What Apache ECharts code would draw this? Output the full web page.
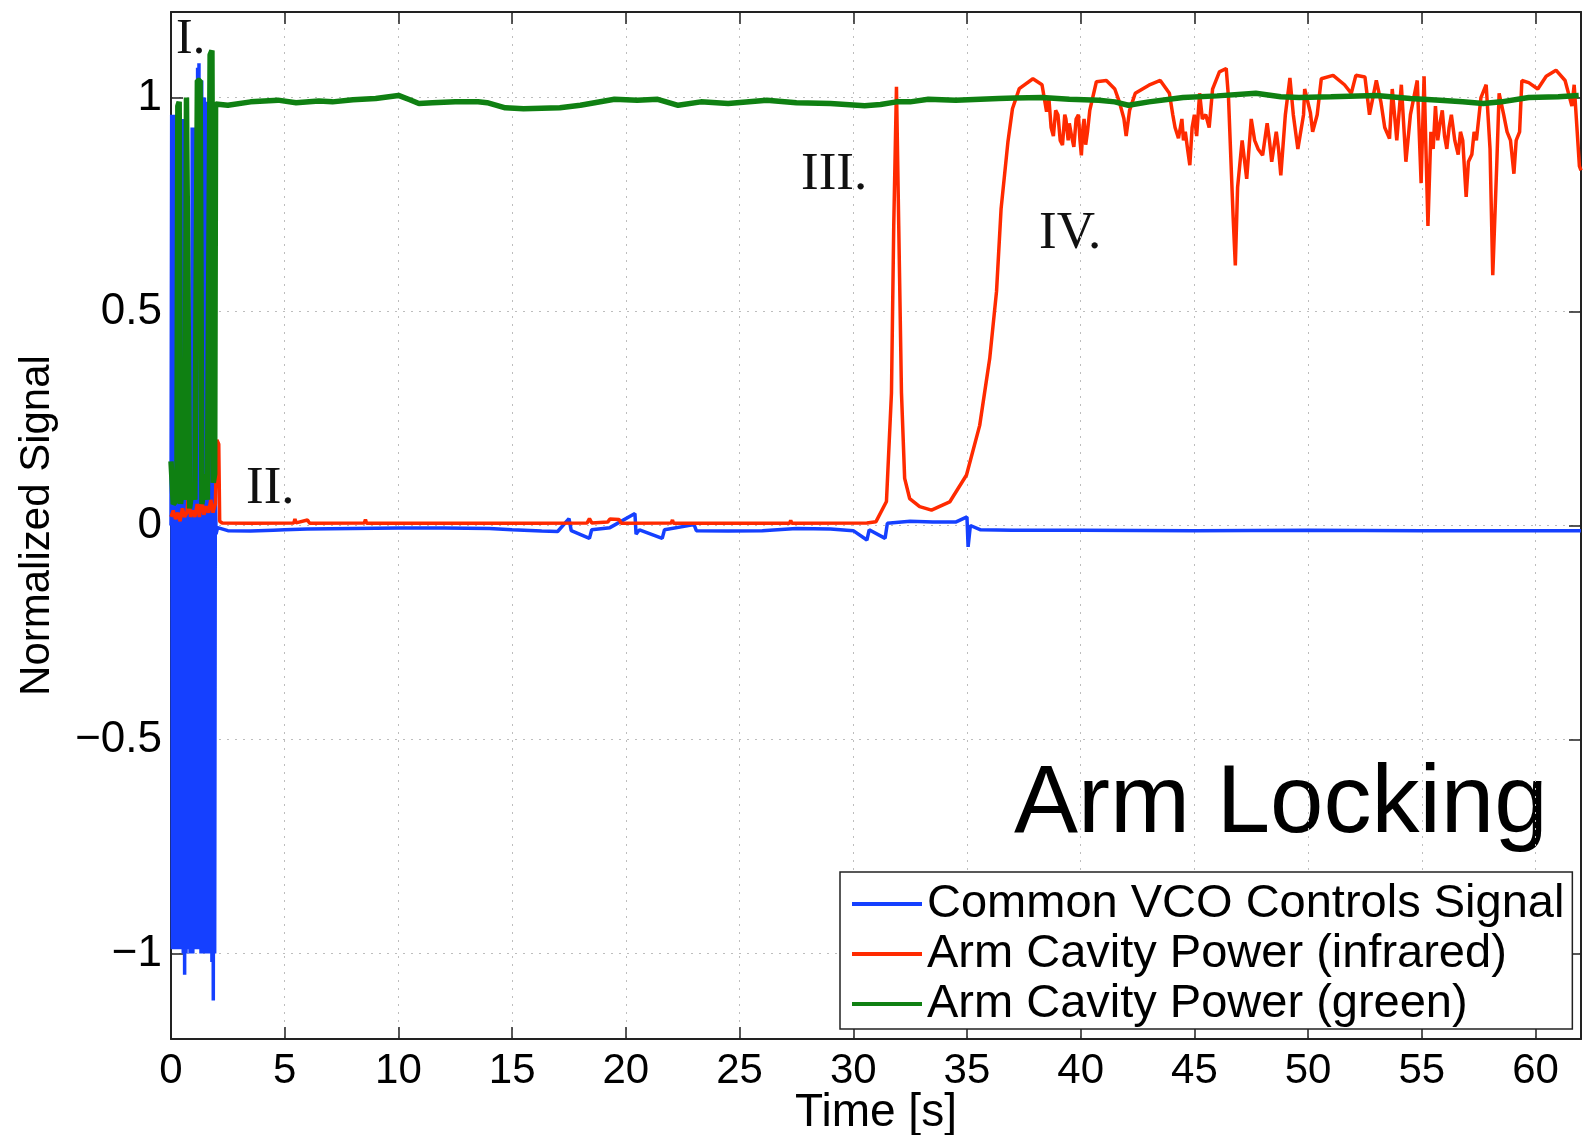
<!DOCTYPE html>
<html><head><meta charset="utf-8">
<script src="https://cdn.jsdelivr.net/npm/echarts@6/dist/echarts.min.js"></script>
<style>html,body{margin:0;padding:0;background:#fff;}#chart{width:1583px;height:1135px;}</style>
</head><body><div id="chart"></div>
<script>
// ---- data ----
const xTicks = [0, 5, 10, 15, 20, 25, 30, 35, 40, 45, 50, 55, 60];
const yTicks = [-1, -0.5, 0, 0.5, 1];
const seriesNames = ['Common VCO Controls Signal', 'Arm Cavity Power (infrared)', 'Arm Cavity Power (green)'];
const annotationLabels = ['I.', 'II.', 'III.', 'IV.'];
const titleText = 'Arm Locking';

// Common VCO controls signal [time s, value]
const vcoSignal = [
[0.00,0.00],[0.03,0.96],[0.06,-0.99],[0.09,0.95],[0.12,-0.99],[0.15,0.96],[0.18,-0.99],[0.21,0.94],[0.24,-0.98],
[0.27,0.35],[0.30,-0.99],[0.33,0.30],[0.36,-0.99],[0.39,0.45],[0.42,-0.98],[0.45,0.95],[0.48,-0.99],[0.51,0.95],
[0.54,-1.00],[0.57,0.94],[0.60,-1.05],[0.63,0.93],[0.66,-1.00],[0.69,0.40],[0.72,-0.99],[0.75,0.35],[0.78,-0.99],
[0.81,0.30],[0.84,-1.00],[0.87,0.40],[0.90,-1.00],[0.93,0.93],[0.96,-1.00],[0.99,0.92],[1.02,-0.99],[1.05,0.93],
[1.08,-0.99],[1.11,0.60],[1.14,-0.98],[1.17,1.07],[1.20,-0.99],[1.23,1.08],[1.26,-0.99],[1.29,1.04],[1.32,-1.00],
[1.35,1.04],[1.38,-1.00],[1.41,1.00],[1.44,-0.99],[1.47,1.00],[1.50,-1.00],[1.53,0.99],[1.56,-1.00],[1.59,0.99],
[1.62,-1.00],[1.65,0.98],[1.68,-1.00],[1.71,0.60],[1.74,-1.00],[1.77,0.55],[1.80,-1.02],[1.83,0.45],[1.86,-1.11],
[1.89,0.40],[1.92,-1.00],[1.95,0.10],[1.98,-0.02],
[2.05,-0.005],[2.5,-0.012],[3.5,-0.013],[4.5,-0.011],[5.0,-0.010],[6.0,-0.008],[8.0,-0.007],[10.0,-0.006],
[12.0,-0.006],[14.0,-0.007],[15.0,-0.010],[16.3,-0.013],[17.0,-0.014],[17.5,0.016],[17.6,-0.012],[18.4,-0.030],
[18.5,-0.010],[19.3,-0.005],[20.4,0.028],[20.45,-0.020],[20.6,-0.010],[21.6,-0.030],[21.7,-0.010],[23.0,0.002],
[23.1,-0.012],[24.5,-0.013],[26.0,-0.012],[27.5,-0.007],[29.0,-0.008],[30.0,-0.012],[30.6,-0.034],[30.7,-0.010],
[31.4,-0.030],[31.5,0.005],[32.5,0.010],[33.5,0.008],[34.5,0.008],[35.0,0.020],[35.05,-0.050],[35.15,0.000],
[35.6,-0.010],[37.0,-0.011],[40.0,-0.011],[45.0,-0.012],[50.0,-0.011],[55.0,-0.012],[60.0,-0.012],[62.0,-0.012]
];

// Arm cavity power, infrared [time s, value]
const irPower = [
[0.00,0.02],[0.10,0.035],[0.20,0.015],[0.30,0.03],[0.40,0.01],[0.50,0.04],[0.60,0.02],[0.70,0.03],[0.78,0.08],
[0.86,0.02],[0.95,0.035],[1.05,0.02],[1.15,0.05],[1.25,0.02],[1.35,0.06],[1.45,0.025],[1.55,0.045],[1.65,0.03],
[1.75,0.06],[1.85,0.03],[1.95,0.05],[2.02,0.20],[2.10,0.19],[2.14,0.01],[2.25,0.006],
[3.5,0.005],[5.4,0.006],[5.45,0.015],[5.5,0.006],[6.0,0.013],[6.1,0.005],[8.5,0.006],[8.55,0.014],[8.6,0.005],
[12.0,0.005],[16.0,0.005],[18.3,0.006],[18.4,0.016],[18.5,0.006],[19.2,0.008],[19.3,0.015],[19.7,0.014],
[19.8,0.005],[22.0,0.006],[22.05,0.013],[22.1,0.005],[27.2,0.005],[27.25,0.012],[27.3,0.005],[30.6,0.006],
[31.0,0.009],[31.46,0.056],[31.68,0.31],[31.78,0.70],[31.9,1.025],[32.0,0.70],[32.12,0.31],[32.26,0.11],
[32.48,0.063],[32.92,0.044],[33.44,0.036],[34.24,0.055],[34.98,0.118],[35.56,0.234],[36.0,0.39],[36.3,0.547],
[36.5,0.74],[36.8,0.896],[37.0,0.974],[37.3,1.021],[37.9,1.044],[38.3,1.03],
[38.5,0.967],[38.6,1.0],[38.7,0.93],[38.8,0.91],[38.9,0.97],[39.0,0.96],[39.1,0.90],[39.2,0.889],[39.3,0.96],
[39.35,0.95],[39.45,0.90],[39.5,0.94],[39.6,0.91],[39.7,0.885],[39.8,0.95],[39.9,0.96],[39.97,0.90],[40.03,0.865],
[40.1,0.93],[40.15,0.95],[40.22,0.89],[40.3,0.92],[40.4,0.97],[40.69,1.037],[41.13,1.04],[41.5,1.02],[41.7,0.99],
[41.9,0.951],[42.0,0.91],[42.15,0.97],[42.4,1.01],[43.0,1.029],[43.5,1.04],[43.9,1.01],[44.05,0.96],[44.15,0.93],
[44.3,0.905],[44.45,0.95],[44.52,0.90],[44.6,0.92],[44.7,0.88],[44.8,0.842],[44.9,0.93],[45.0,0.96],[45.1,0.91],
[45.23,1.01],[45.35,0.95],[45.5,0.96],[45.65,0.93],[45.8,1.02],[46.1,1.06],[46.4,1.068],[46.5,1.0],
[46.7,0.725],[46.8,0.608],[46.9,0.79],[47.1,0.90],[47.3,0.81],[47.5,0.95],[47.65,0.90],[47.8,0.88],[48.0,0.865],
[48.2,0.94],[48.3,0.90],[48.4,0.85],[48.6,0.92],[48.7,0.88],[48.8,0.818],[49.0,0.96],[49.2,1.046],[49.35,0.96],
[49.55,0.88],[49.8,0.96],[49.85,1.02],[50.1,0.965],[50.2,0.92],[50.4,0.96],[50.58,1.044],[51.1,1.052],[51.6,1.03],
[51.9,1.01],[52.1,1.052],[52.5,1.048],[52.7,0.96],[53.0,1.04],[53.2,0.99],[53.37,0.93],[53.58,0.904],[53.7,1.02],
[53.9,0.9],[54.1,1.03],[54.3,0.85],[54.5,0.96],[54.8,1.04],[54.97,0.80],[55.1,1.05],[55.27,0.70],[55.4,0.92],
[55.5,0.88],[55.6,0.98],[55.7,0.9],[55.8,0.94],[55.9,0.97],[56.0,0.91],[56.1,0.88],[56.2,0.93],[56.3,0.96],
[56.45,0.90],[56.6,0.867],[56.7,0.92],[56.8,0.9],[56.95,0.768],[57.05,0.85],[57.2,0.867],[57.3,0.92],[57.4,0.9],
[57.6,1.0],[57.83,1.03],[58.0,0.88],[58.12,0.585],[58.3,0.85],[58.4,1.01],[58.6,0.96],[58.75,0.92],[58.9,0.9],
[59.05,0.822],[59.15,0.90],[59.3,0.92],[59.4,1.04],[59.7,1.035],[60.1,1.02],[60.47,1.05],[60.9,1.064],[61.3,1.04],
[61.6,0.98],[61.7,1.03],[61.93,0.84],[62.0,0.83]
];

// Arm cavity power, green [time s, value]
const greenPower = [
[0.00,0.15],[0.10,0.05],[0.26,0.06],[0.30,0.98],[0.36,0.99],[0.42,0.05],[0.55,0.12],[0.62,0.06],[0.68,1.00],
[0.76,1.00],[0.82,0.04],[0.95,0.10],[1.05,0.06],[1.16,1.04],[1.28,1.04],[1.36,0.05],[1.50,0.12],[1.60,0.06],
[1.72,1.10],[1.80,1.11],[1.86,0.10],[1.92,0.12],[1.96,0.985],
[2.5,0.982],[3.5,0.99],[4.7,0.994],[5.5,0.988],[6.5,0.992],[7.1,0.99],[8.0,0.995],[9.0,0.998],[10.0,1.005],
[10.5,0.995],[10.9,0.986],[11.5,0.988],[12.5,0.99],[13.5,0.99],[13.9,0.988],[14.7,0.976],[15.5,0.974],[16.3,0.975],
[17.1,0.976],[18.0,0.982],[19.5,0.996],[20.5,0.994],[21.4,0.996],[22.3,0.982],[23.3,0.99],[24.5,0.986],[26.2,0.994],
[27.5,0.988],[29.0,0.986],[30.5,0.981],[31.2,0.984],[31.9,0.99],[32.5,0.99],[33.3,0.996],[34.5,0.994],[36.4,0.998],
[37.1,0.999],[38.3,1.0],[39.5,0.996],[40.8,0.994],[41.5,0.99],[42.1,0.982],[43.0,0.99],[44.5,1.0],[46.0,1.004],
[47.7,1.01],[48.8,1.002],[49.6,1.0],[51.0,1.002],[53.0,1.005],[54.5,0.998],[55.8,0.994],[56.8,0.99],[57.7,0.986],
[58.5,0.99],[59.7,1.0],[61.0,1.002],[61.9,1.005]
];

// ---- chart ----
const SANS = '"Liberation Sans", Arial, Helvetica, sans-serif';
const SERIF = '"Liberation Serif", "Times New Roman", serif';
const colors = ['#1540ff', '#ff2a00', '#0f8012'];
const fmtY = v => (v < 0 ? '\u2212' + Math.abs(v) : String(v));

const chart = echarts.init(document.getElementById('chart'), null, {renderer: 'canvas'});
const axisLineStyle = {color: '#222', width: 2};
const tickStyle = {color: '#222', width: 1.5};
const gridLineStyle = {type: [2, 6], color: '#bdbdbd', width: 1};

chart.setOption({
  animation: false,
  backgroundColor: '#fff',
  color: colors,
  grid: {left: 171, top: 12, right: 2, bottom: 96, containLabel: false, outerBoundsMode: 'none'},
  xAxis: [
    {type: 'value', min: 0, max: 62, position: 'bottom',
     name: 'Time [s]', nameLocation: 'middle', nameGap: 51, nameMoveOverlap: false,
     nameTextStyle: {fontSize: 46, color: '#000', fontFamily: SANS},
     axisLine: {onZero: false, lineStyle: axisLineStyle},
     axisTick: {inside: true, length: 12, customValues: xTicks, lineStyle: tickStyle},
     axisLabel: {customValues: xTicks, fontSize: 42, color: '#000', margin: 11, fontFamily: SANS},
     splitLine: {show: true, lineStyle: gridLineStyle}},
    {type: 'value', min: 0, max: 62, position: 'top',
     axisLine: {onZero: false, lineStyle: axisLineStyle},
     axisTick: {inside: true, length: 12, customValues: xTicks, lineStyle: tickStyle},
     axisLabel: {show: false}, splitLine: {show: false}}
  ],
  yAxis: [
    {type: 'value', min: -1.2, max: 1.2, position: 'left',
     name: 'Normalized Signal', nameLocation: 'middle', nameGap: 113, nameRotate: 90, nameMoveOverlap: false,
     nameTextStyle: {fontSize: 42, color: '#000', fontFamily: SANS},
     axisLine: {onZero: false, lineStyle: axisLineStyle},
     axisTick: {inside: true, length: 12, customValues: yTicks, lineStyle: tickStyle},
     axisLabel: {customValues: yTicks, formatter: fmtY, fontSize: 44, color: '#000', margin: 9, fontFamily: SANS},
     splitLine: {show: true, lineStyle: gridLineStyle}},
    {type: 'value', min: -1.2, max: 1.2, position: 'right',
     axisLine: {onZero: false, lineStyle: axisLineStyle},
     axisTick: {inside: true, length: 12, customValues: yTicks, lineStyle: tickStyle},
     axisLabel: {show: false}, splitLine: {show: false}}
  ],
  legend: {
    orient: 'vertical', left: 840, top: 872, padding: [7, 8, 0, 12],
    itemWidth: 70, itemHeight: 4, itemGap: 0, icon: 'rect',
    backgroundColor: '#fff', borderColor: '#222', borderWidth: 1.5,
    textStyle: {fontSize: 47, color: '#000', lineHeight: 50, fontFamily: SANS},
    data: seriesNames
  },
  graphic: [
    {type: 'text', x: 176, y: 40, style: {text: annotationLabels[0], fontSize: 50, fontFamily: SERIF, fill: '#111', verticalAlign: 'middle', align: 'left'}},
    {type: 'text', x: 246, y: 489, style: {text: annotationLabels[1], fontSize: 53, fontFamily: SERIF, fill: '#111', verticalAlign: 'middle', align: 'left'}},
    {type: 'text', x: 801, y: 175, style: {text: annotationLabels[2], fontSize: 53, fontFamily: SERIF, fill: '#111', verticalAlign: 'middle', align: 'left'}},
    {type: 'text', x: 1039, y: 234, style: {text: annotationLabels[3], fontSize: 53, fontFamily: SERIF, fill: '#111', verticalAlign: 'middle', align: 'left'}},
    {type: 'text', x: 1014, y: 806, style: {text: titleText, fontSize: 96, fontFamily: SANS, fill: '#000', verticalAlign: 'middle', align: 'left'}}
  ],
  series: [
    {name: seriesNames[0], type: 'line', data: vcoSignal, showSymbol: false, symbol: 'none',
     lineStyle: {width: 3.5, color: colors[0]}, itemStyle: {color: colors[0]}, z: 2},
    {name: seriesNames[1], type: 'line', data: irPower, showSymbol: false, symbol: 'none',
     lineStyle: {width: 3.5, color: colors[1]}, itemStyle: {color: colors[1]}, z: 3},
    {name: seriesNames[2], type: 'line', data: greenPower, showSymbol: false, symbol: 'none',
     lineStyle: {width: 5.5, color: colors[2]}, itemStyle: {color: colors[2]}, z: 4}
  ]
});
</script></body></html>
